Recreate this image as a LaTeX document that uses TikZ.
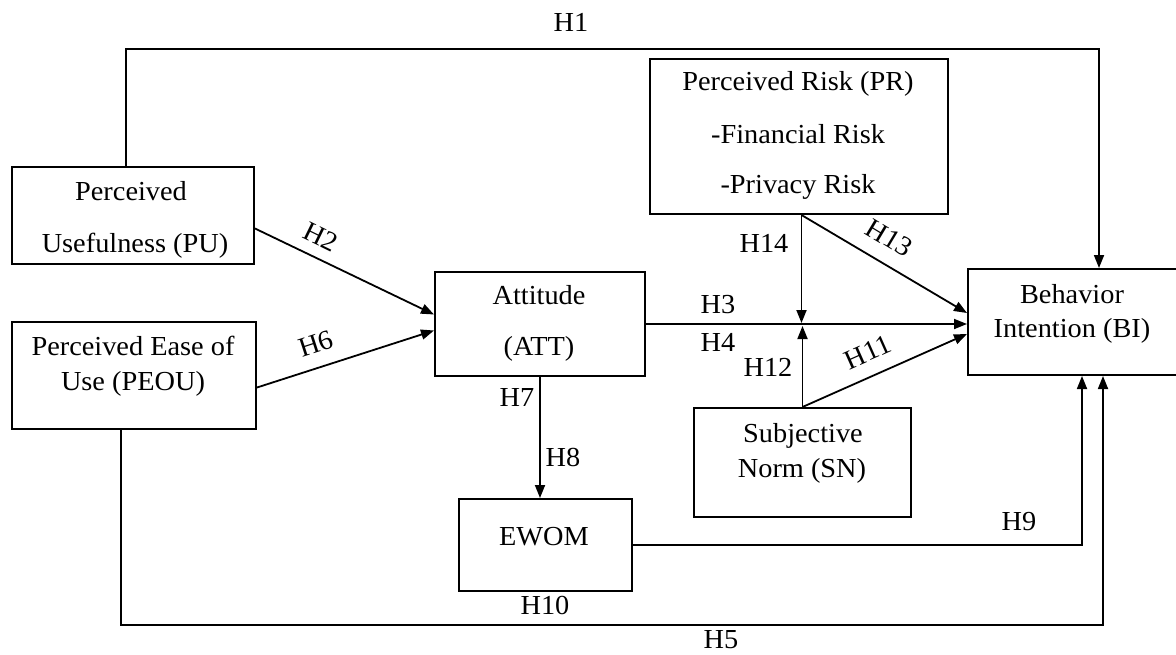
\documentclass[tikz,border=0pt]{standalone}
\usepackage{fontspec}
\setmainfont{Liberation Serif}[FakeStretch=1.03]
\usetikzlibrary{arrows.meta}
\begin{document}
\begin{tikzpicture}[x=1pt,y=-1pt,
  box/.style={draw,line width=2pt,inner sep=0pt,anchor=north west},
  txt/.style={font=\fontsize{27.5}{27.5}\selectfont,inner sep=0pt,anchor=base},
  lbl/.style={font=\fontsize{27.5}{27.5}\selectfont,inner sep=0pt},
  conn/.style={line width=1.8pt},
  arr/.style={conn,-{Triangle[length=13pt,width=10pt]}}]
\useasboundingbox (0,0) rectangle (1176,654);
% boxes
\node[box,minimum width=242pt,minimum height=97pt] (pu) at (11,166) {};
\node[box,minimum width=244pt,minimum height=107pt] (peou) at (11,321) {};
\node[box,minimum width=210pt,minimum height=104pt] (att) at (434,271) {};
\node[box,minimum width=298pt,minimum height=155pt] (pr) at (649,58) {};
\node[box,minimum width=216pt,minimum height=106pt] (bi) at (967,268) {};
\node[box,minimum width=217pt,minimum height=109pt] (sn) at (693,407) {};
\node[box,minimum width=173pt,minimum height=92pt] (ewom) at (458,498) {};
% box texts
\node[txt] (t1) at (131,200) {Perceived};
\node[txt] (t2) at (135,252) {Usefulness (PU)};
\node[txt] (t3) at (133,355) {Perceived Ease of};
\node[txt] (t4) at (133,390) {Use (PEOU)};
\node[txt] (t5) at (539,304) {Attitude};
\node[txt] (t6) at (539,355) {(ATT)};
\node[txt] (t7) at (798,90) {Perceived Risk (PR)};
\node[txt] (t8) at (798,143) {-Financial Risk};
\node[txt] (t9) at (798,193) {-Privacy Risk};
\node[txt] (t10) at (1072,303) {Behavior};
\node[txt] (t11) at (1072,337) {Intention (BI)};
\node[txt] (t12) at (803,442) {Subjective};
\node[txt] (t13) at (802,477) {Norm (SN)};
\node[txt] (t14) at (544,545) {EWOM};
% connectors
\coordinate (k1) at (126,49);
\coordinate (k2) at (1099,49);
\draw[arr] (k1 |- pu.north) -- (k1) -- (k2) -- (k2 |- bi.north);
\draw[arr] ([yshift=-13pt]pu.east) -- ([yshift=9.5pt]att.west);
\draw[arr] ([yshift=-12pt]peou.east) -- ([yshift=-6.5pt]att.west);
\draw[arr] (att.east) -- (att.east -| bi.west);
\coordinate (m) at ([xshift=2.5pt]pr.south |- att.east);
\draw[arr] ([xshift=2.5pt]pr.south) -- ([yshift=1pt]m);
\draw[arr] ([xshift=2.5pt]pr.south) -- ([yshift=9pt]bi.west);
\draw[arr] (sn.north) -- ([yshift=-2pt]sn.north |- att.east);
\draw[arr] (sn.north) -- ([yshift=-12pt]bi.west);
\draw[arr] (att.south) -- (att.south |- ewom.north);
\draw[arr] (ewom.east) -| ([xshift=6pt]bi.south);
\coordinate (k4) at (120.6,625);
\draw[arr] (k4 |- peou.south) -- (k4) -| ([xshift=27pt]bi.south);
% labels
\node[lbl] (h1) at (571,22) {H1};
\node[lbl,rotate=-26] (h2) at (321,237) {H2};
\node[lbl] (h3) at (718,305) {H3};
\node[lbl] (h4) at (718,342) {H4};
\node[lbl] (h5) at (721,640) {H5};
\node[lbl,rotate=18] (h6) at (316,344) {H6};
\node[lbl] (h7) at (517,397) {H7};
\node[lbl] (h8) at (563,457) {H8};
\node[lbl] (h9) at (1019,522) {H9};
\node[lbl] (h10) at (545,605) {H10};
\node[lbl,rotate=24] (h11) at (868,352) {H11};
\node[lbl] (h12) at (768,367) {H12};
\node[lbl,rotate=-31] (h13) at (889,238) {H13};
\node[lbl] (h14) at (764,243) {H14};
\end{tikzpicture}
\end{document}
